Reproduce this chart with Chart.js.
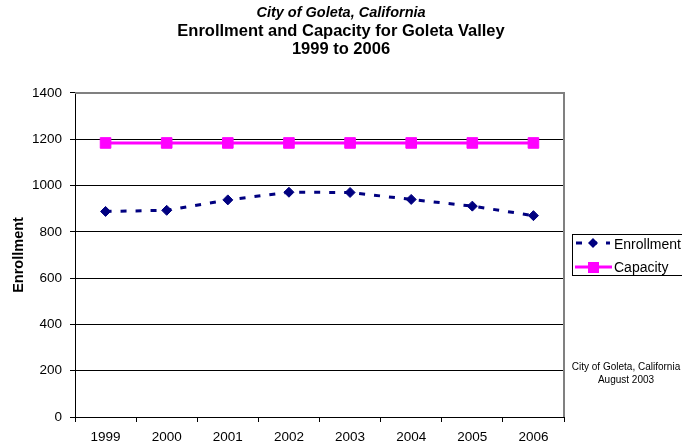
<html>
  <head>
    <title>Goleta Valley enrollment</title>
    <style>
      body { margin: 0; background: #fff; }
    </style>
  </head>
  <body>
    <canvas id="chart" width="682" height="446"></canvas>

    <script src="https://cdn.jsdelivr.net/npm/chart.js@4"></script>
    <script type="text/javascript">
      const years = ['1999', '2000', '2001', '2002', '2003', '2004', '2005', '2006'];
      const enrollment = [888, 893, 938, 971, 970, 940, 911, 870];
      const capacity = [1184, 1184, 1184, 1184, 1184, 1184, 1184, 1184];
      const yTicks = [0, 200, 400, 600, 800, 1000, 1200, 1400];

      const FONT = "'Liberation Sans', Arial, sans-serif";
      const NAVY = '#000080';
      const MAGENTA = '#ff00ff';

      // legend box + source note, drawn the Excel way
      const extras = {
        id: 'extras',
        afterDraw(chart) {
          const { ctx, chartArea: a } = chart;
          ctx.save();

          // grey plot frame top/right
          ctx.strokeStyle = '#808080';
          ctx.lineWidth = 2;
          ctx.beginPath();
          ctx.moveTo(a.left, a.top);
          ctx.lineTo(a.right, a.top);
          ctx.lineTo(a.right, a.bottom);
          ctx.stroke();

          // legend
          ctx.strokeStyle = '#000';
          ctx.lineWidth = 1;
          ctx.strokeRect(572.5, 234.5, 130, 41);

          const ds = chart.data.datasets;
          ctx.font = '14px ' + FONT;
          ctx.textBaseline = 'middle';
          ctx.textAlign = 'left';

          // enrollment row
          ctx.strokeStyle = NAVY;
          ctx.lineWidth = 3;
          ctx.setLineDash(ds[0].borderDash);
          ctx.beginPath();
          ctx.moveTo(576, 243);
          ctx.lineTo(610, 243);
          ctx.stroke();
          ctx.setLineDash([]);
          ctx.fillStyle = NAVY;
          ctx.beginPath();
          ctx.moveTo(593, 238);
          ctx.lineTo(598, 243);
          ctx.lineTo(593, 248);
          ctx.lineTo(588, 243);
          ctx.closePath();
          ctx.fill();
          ctx.fillStyle = '#000';
          ctx.fillText(ds[0].label, 614, 245);

          // capacity row
          ctx.strokeStyle = MAGENTA;
          ctx.beginPath();
          ctx.moveTo(575, 267);
          ctx.lineTo(612, 267);
          ctx.stroke();
          ctx.fillStyle = MAGENTA;
          ctx.fillRect(588, 262, 11, 11);
          ctx.fillStyle = '#000';
          ctx.fillText(ds[1].label, 614, 268);

          // source note
          ctx.font = '10px ' + FONT;
          ctx.textAlign = 'center';
          ctx.fillText('City of Goleta, California', 626, 367);
          ctx.fillText('August 2003', 626, 380);
          ctx.restore();
        },
      };

      new Chart(document.getElementById('chart'), {
        type: 'line',
        data: {
          labels: years,
          datasets: [
            {
              label: 'Enrollment',
              data: enrollment,
              borderColor: NAVY,
              backgroundColor: NAVY,
              borderWidth: 3,
              borderDash: [6, 9],
              pointStyle: 'rectRot',
              pointRadius: 5,
              pointBorderWidth: 1,
              tension: 0,
            },
            {
              label: 'Capacity',
              data: capacity,
              borderColor: MAGENTA,
              backgroundColor: MAGENTA,
              borderWidth: 3,
              pointStyle: 'rect',
              pointRadius: 7.5,
              pointBorderWidth: 1,
              tension: 0,
            },
          ],
        },
        options: {
          responsive: false,
          animation: false,
          layout: { padding: 0 },
          plugins: {
            legend: { display: false },
            tooltip: { enabled: false },
            title: {
              display: true,
              text: 'City of Goleta, California',
              color: '#000',
              font: { family: FONT, size: 14.5, style: 'italic', weight: 'bold', lineHeight: 1.1 },
              padding: { top: 5, bottom: 1 },
            },
            subtitle: {
              display: true,
              text: ['Enrollment and Capacity for Goleta Valley', '1999 to 2006'],
              color: '#000',
              font: { family: FONT, size: 16.5, weight: 'bold', lineHeight: 18 / 16.5 },
              padding: { top: 1, bottom: 34 },
            },
          },
          scales: {
            x: {
              offset: true,
              grid: {
                offset: true,
                drawOnChartArea: false,
                tickLength: 5,
                color: '#000',
              },
              border: { color: '#000', width: 1 },
              ticks: { color: '#000', font: { family: FONT, size: 13.5 }, padding: 7 },
              afterFit: (s) => { s.height = 29; },
            },
            y: {
              min: 0,
              max: 1400,
              afterBuildTicks: (s) => { s.ticks = yTicks.map((v) => ({ value: v })); },
              grid: { color: '#000', tickLength: 5 },
              border: { color: '#000', width: 1 },
              ticks: {
                color: '#000',
                font: { family: FONT, size: 13.5 },
                padding: 8,
                callback: (v) => String(v),
              },
              title: {
                display: true,
                text: 'Enrollment',
                color: '#000',
                font: { family: FONT, size: 14.5, weight: 'bold' },
                padding: { top: 10, bottom: 4 },
              },
              afterFit: (s) => { s.width = 75; },
            },
            // empty right-hand band that holds the legend and the note
            side: {
              position: 'right',
              display: true,
              grid: { display: false },
              border: { display: false },
              ticks: { display: false },
              afterFit: (s) => { s.width = 118; },
            },
          },
        },
        plugins: [extras],
      });
    </script>
  </body>
</html>
